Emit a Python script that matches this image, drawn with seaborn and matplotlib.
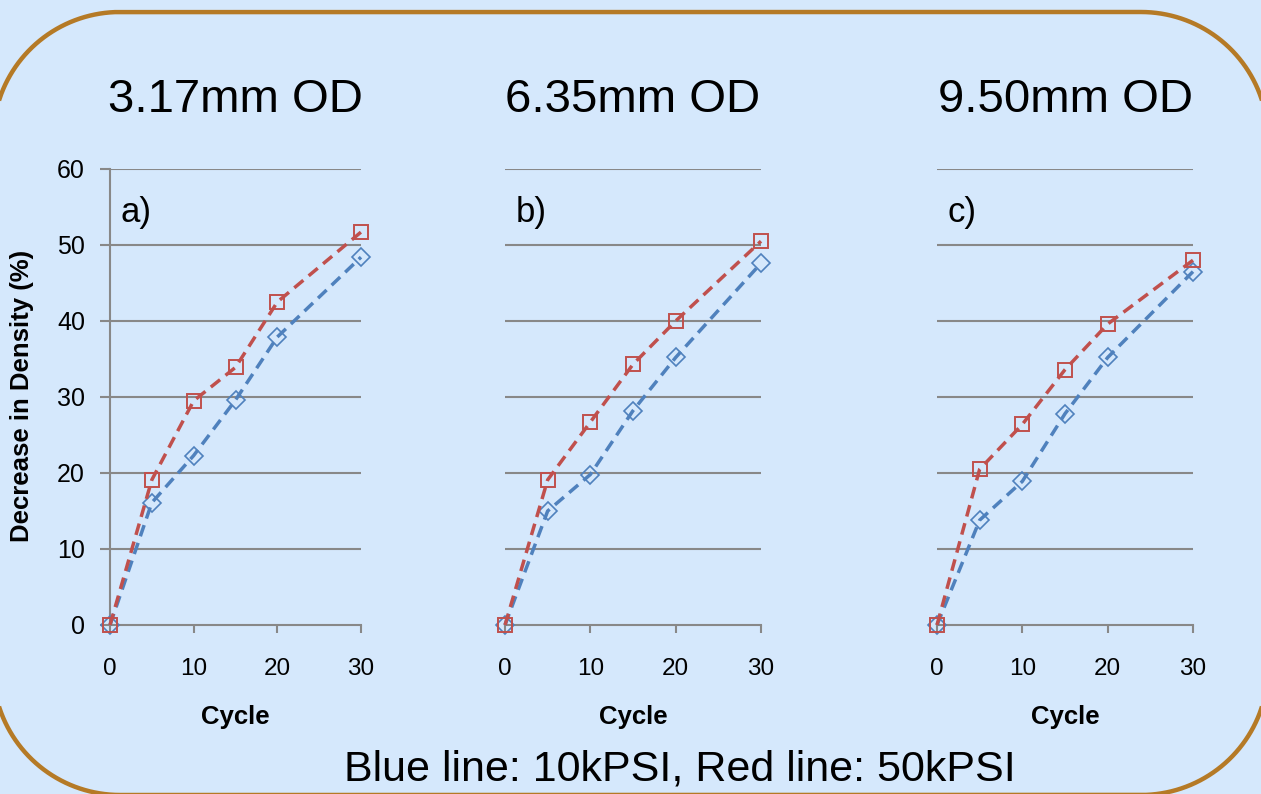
import matplotlib
matplotlib.use("Agg")
import matplotlib.pyplot as plt
from matplotlib.patches import PathPatch
from matplotlib.path import Path
import numpy as np
import seaborn as sns
import pandas as pd

# Data
cycles = [0, 5, 10, 15, 20, 30]
panel_titles = ["3.17mm OD", "6.35mm OD", "9.50mm OD"]
panel_tags = ["a)", "b)", "c)"]
low_10kpsi = [
    [0, 16.1, 22.3, 29.6, 37.9, 48.4],
    [0, 15.0, 19.8, 28.2, 35.2, 47.6],
    [0, 13.8, 18.9, 27.8, 35.2, 46.5],
]
high_50kpsi = [
    [0, 19.1, 29.5, 33.9, 42.5, 51.7],
    [0, 19.1, 26.7, 34.3, 40.0, 50.5],
    [0, 20.5, 26.4, 33.6, 39.6, 48.0],
]
x_ticks = [0, 10, 20, 30]
y_ticks = [0, 10, 20, 30, 40, 50, 60]

BG = "#D5E8FC"
GRID = "#888888"
RED = "#C0504D"
BLUE = "#4F81BD"
BORDER = "#B57A26"

sns.set_theme(style="white")
plt.rcParams["font.family"] = ["Liberation Sans", "DejaVu Sans"]
plt.rcParams["text.color"] = "black"
plt.rcParams["axes.labelcolor"] = "black"
plt.rcParams["xtick.color"] = "black"
plt.rcParams["ytick.color"] = "black"

W, H = 1261, 794
fig = plt.figure(figsize=(W / 100, H / 100), dpi=100, facecolor=BG)


def rounded_rect_path(x0, y0, x1, y1, r, n=40):
    """Closed outline of a rectangle with circular corners."""
    pts = []
    corners = [(x1 - r, y1 - r, 0), (x0 + r, y1 - r, 90),
               (x0 + r, y0 + r, 180), (x1 - r, y0 + r, 270)]
    for cx, cy, start in corners:
        t = np.radians(np.linspace(start, start + 90, n))
        pts.extend(zip(cx + r * np.cos(t), cy + r * np.sin(t)))
    pts.append(pts[0])
    return Path(pts)


# pixel-space overlay for the rounded frame
frame_ax = fig.add_axes([0, 0, 1, 1])
frame_ax.set_xlim(0, W)
frame_ax.set_ylim(0, H)
frame_ax.axis("off")
frame_ax.set_zorder(-1)
frame_ax.add_patch(PathPatch(rounded_rect_path(-7, -1, W + 7, H - 12, 127),
                             facecolor="none", edgecolor=BORDER, linewidth=3.2,
                             clip_on=False))

lefts = [110, 505, 937]
widths = [251, 256, 256]
bottom_px, top_px = 625, 169
dash = (0, (3.4, 2.0))

for i in range(3):
    ax = fig.add_axes([lefts[i] / W, 1 - bottom_px / H, widths[i] / W, (bottom_px - top_px) / H])
    ax.set_facecolor("none")
    df = pd.DataFrame({"Cycle": cycles, "low": low_10kpsi[i], "high": high_50kpsi[i]})

    sns.lineplot(data=df, x="Cycle", y="low", ax=ax, color=BLUE, linestyle=dash,
                 linewidth=2.5, marker="D", markersize=9, markerfacecolor="none",
                 markeredgecolor=BLUE, markeredgewidth=1.2, clip_on=False, zorder=3)
    sns.lineplot(data=df, x="Cycle", y="high", ax=ax, color=RED, linestyle=dash,
                 linewidth=2.5, marker="s", markersize=10.5, markerfacecolor="none",
                 markeredgecolor=RED, markeredgewidth=1.4, clip_on=False, zorder=4)

    ax.set_xlim(0, 30)
    ax.set_ylim(0, 60)
    ax.set_xticks(x_ticks)
    ax.set_yticks(y_ticks)
    for yv in y_ticks[1:]:
        ax.axhline(yv, color=GRID, linewidth=1.5, zorder=1)

    for s in ["top", "right"]:
        ax.spines[s].set_visible(False)
    ax.spines["bottom"].set_color(GRID)
    ax.spines["bottom"].set_linewidth(1.5)
    ax.tick_params(axis="x", direction="out", length=6, width=1.5, color=GRID,
                   labelsize=17.5, pad=18, labelcolor="black", bottom=True)
    if i == 0:
        ax.spines["left"].set_color(GRID)
        ax.spines["left"].set_linewidth(1.5)
        ax.tick_params(axis="y", direction="out", length=7, width=1.5, color=GRID,
                       labelsize=18, pad=11, labelcolor="black", left=True)
    else:
        ax.spines["left"].set_visible(False)
        ax.tick_params(axis="y", left=False, labelleft=False)

    ax.set_xlabel("")
    ax.set_ylabel("")
    ax.text(0.04, 0.905, panel_tags[i], transform=ax.transAxes, fontsize=25,
            ha="left", va="center", color="black")

    cx = (lefts[i] + widths[i] / 2) / W
    fig.text(cx, 1 - 100 / H, panel_titles[i], fontsize=34, ha="center", va="center")
    fig.text(cx, 1 - 717 / H, "Cycle", fontsize=18.5, fontweight="bold",
             ha="center", va="center")

fig.text(22 / W, 1 - 396 / H, "Decrease in Density (%)", rotation=90, fontsize=18.5,
         fontweight="bold", ha="center", va="center")
fig.text(680 / W, 1 - 770 / H, "Blue line: 10kPSI, Red line: 50kPSI", fontsize=31,
         ha="center", va="center")

fig.savefig("out.png", dpi=100, facecolor=BG)
